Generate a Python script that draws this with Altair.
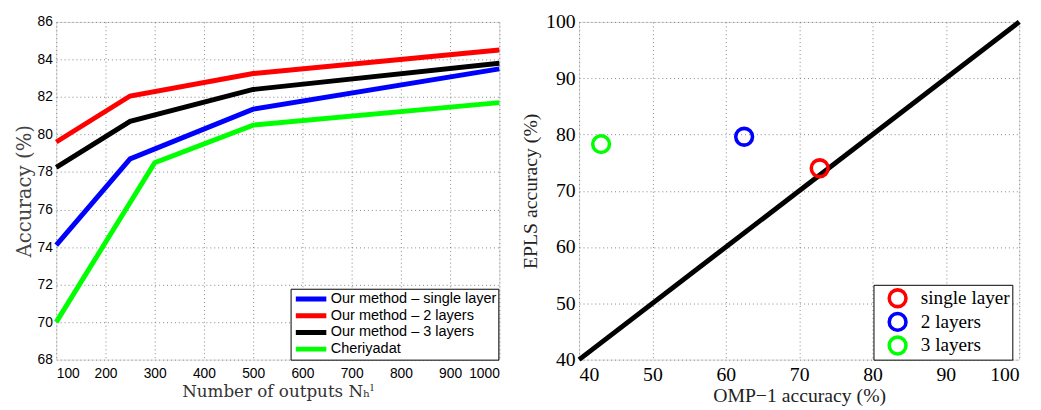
import altair as alt
import pandas as pd

# ---- Left panel data ----
series_names = ["Our method – single layer", "Our method – 2 layers",
                "Our method – 3 layers", "Cheriyadat"]
series_colors = ["#0000ff", "#ff0000", "#000000", "#00ff00"]
x_ours = [100, 250, 500, 1000]
x_cheri = [100, 300, 500, 1000]
acc_single = [74.1, 78.7, 81.35, 83.5]
acc_two = [79.6, 82.05, 83.25, 84.5]
acc_three = [78.25, 80.7, 82.4, 83.8]
acc_cheri = [70.0, 78.5, 80.5, 81.7]

# ---- Right panel data ----
layer_names = ["single layer", "2 layers", "3 layers"]
layer_colors = ["#ff0000", "#0000ff", "#00ff00"]
omp_acc = [72.8, 62.5, 43.0]
epls_acc = [74.0, 79.6, 78.3]
diag = [40, 100]

rows = []
for name, xs, ys in zip(series_names,
                        [x_ours, x_ours, x_ours, x_cheri],
                        [acc_single, acc_two, acc_three, acc_cheri]):
    for i, (xv, yv) in enumerate(zip(xs, ys)):
        rows.append({"series": name, "n": xv, "acc": yv, "order": i})
df_lines = pd.DataFrame(rows)

df_pts = pd.DataFrame({"layer": layer_names, "omp": omp_acc, "epls": epls_acc})
df_diag = pd.DataFrame({"a": diag, "b": diag})

grid_kw = dict(grid=True, gridDash=[1, 3], gridColor="#777777", gridOpacity=0.9,
               domain=False, ticks=False)

left = alt.Chart(df_lines).mark_line(strokeWidth=5).encode(
    x=alt.X("n:Q", scale=alt.Scale(domain=[100, 1000], nice=False),
            axis=alt.Axis(title="Number of outputs Nₕˡ", format="d",
                          values=list(range(100, 1001, 100)),
                          labelFont="Liberation Sans", labelFontSize=14,
                          labelColor="black", labelPadding=7,
                          titleFont="DejaVu Serif", titleFontWeight="normal",
                          titleFontSize=17, titleColor="#333333", titlePadding=3,
                          **grid_kw)),
    y=alt.Y("acc:Q", scale=alt.Scale(domain=[68, 86], nice=False),
            axis=alt.Axis(title="Accuracy (%)",
                          values=list(range(68, 87, 2)),
                          labelFont="Liberation Sans", labelFontSize=14,
                          labelColor="black", labelPadding=4,
                          titleFont="DejaVu Serif", titleFontWeight="normal",
                          titleFontSize=20, titleColor="#444444", titlePadding=3,
                          **grid_kw)),
    color=alt.Color("series:N",
                    scale=alt.Scale(domain=series_names, range=series_colors),
                    sort=series_names,
                    legend=alt.Legend(title=None, orient="none",
                                      legendX=238, legendY=271,
                                      symbolType="M-1,0H5.2", symbolStrokeWidth=5,
                                      symbolSize=100, symbolOffset=0.8,
                                      labelFont="Liberation Sans", labelFontSize=14.7,
                                      labelColor="black", labelLimit=400,
                                      labelExpr="datum.label + ' '",
                                      fillColor="white", strokeColor="black",
                                      clipHeight=16.7,
                                      padding=2, rowPadding=0, labelOffset=23)),
    order="order:Q",
).properties(width=450, height=343)

diag_line = alt.Chart(df_diag).mark_line(color="black", strokeWidth=5).encode(
    x=alt.X("a:Q", scale=alt.Scale(domain=[40, 100], nice=False),
            axis=alt.Axis(title="OMP−1 accuracy (%)",
                          values=list(range(40, 101, 10)),
                          labelFont="Liberation Serif", labelFontSize=20,
                          labelColor="black", labelPadding=5,
                          titleFont="Liberation Serif", titleFontWeight="normal",
                          titleFontSize=20, titleColor="#222222", titlePadding=2,
                          **grid_kw)),
    y=alt.Y("b:Q", scale=alt.Scale(domain=[40, 100], nice=False),
            axis=alt.Axis(title="EPLS accuracy (%)",
                          values=list(range(40, 101, 10)),
                          labelFont="Liberation Serif", labelFontSize=20,
                          labelColor="black", labelPadding=4,
                          titleFont="Liberation Serif", titleFontWeight="normal",
                          titleFontSize=20, titleColor="#222222", titlePadding=5,
                          **grid_kw)),
)

pts = alt.Chart(df_pts).mark_point(shape="circle", filled=False, size=290,
                                   strokeWidth=3.6, opacity=1).encode(
    x="omp:Q",
    y="epls:Q",
    color=alt.Color("layer:N",
                    scale=alt.Scale(domain=layer_names, range=layer_colors),
                    sort=layer_names,
                    legend=alt.Legend(title=None, orient="none",
                                      legendX=299, legendY=267,
                                      symbolType="circle", symbolSize=290,
                                      symbolStrokeWidth=3.6, symbolFillColor="transparent",
                                      symbolOffset=12,
                                      labelFont="Liberation Serif", labelFontSize=19.5,
                                      labelColor="black", labelLimit=400,
                                      labelExpr="datum.label + '  '",
                                      fillColor="white", strokeColor="black",
                                      clipHeight=23.3,
                                      padding=2, rowPadding=0, labelOffset=13)),
)

right = alt.layer(diag_line, pts).properties(width=447, height=343)

chart = alt.hconcat(left, right, spacing=10).resolve_scale(color="independent").properties(
    padding={"left": 5, "top": 0, "right": 3, "bottom": 0}
).configure_view(stroke="black", strokeWidth=1.2).configure(background="white")

chart.save("out.html", embed_options={"renderer": "svg", "actions": False})
